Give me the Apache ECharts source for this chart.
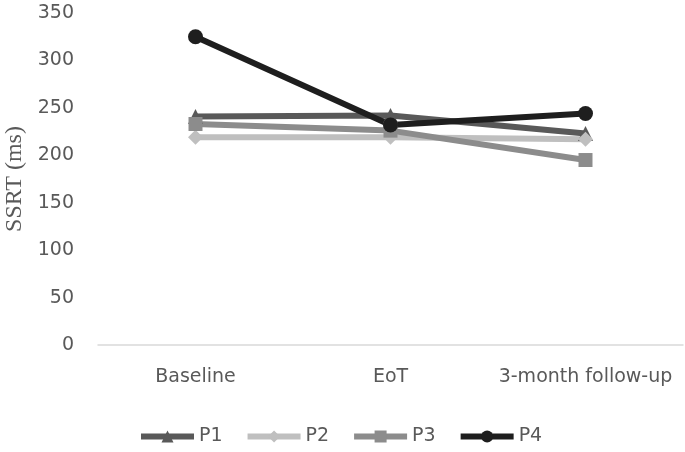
<!DOCTYPE html>
<html>
<head>
<meta charset="utf-8">
<script src="https://cdn.jsdelivr.net/npm/echarts@6/dist/echarts.min.js"></script>
<style>
  html, body { margin: 0; padding: 0; background: #fff; }
  #myChart { width: 685px; height: 452px; }
</style>
</head>
<body>
<div id="myChart"></div>
<script>
// data
const categories = ['Baseline', 'EoT', '3-month follow-up']
const yTicks = [0, 50, 100, 150, 200, 250, 300, 350]
const p1 = [241, 242, 223]
const p2 = [219, 219, 217]
const p3 = [233, 226, 195]
const p4 = [325, 232, 244]

let myChart = echarts.init(document.getElementById('myChart'))

const sansFont = 'DejaVu Sans'

function mkSeries(name, data, color, symbol, size, width) {
  return {
    name: name,
    type: 'line',
    data: data,
    symbol: symbol,
    symbolSize: size,
    showSymbol: true,
    lineStyle: { color: color, width: width },
    itemStyle: { color: color },
    emphasis: { disabled: true }
  }
}

myChart.setOption({
  animation: false,
  grid: { left: 98, right: 2, top: 13, bottom: 107, outerBoundsMode: 'none' },
  legend: {
    top: 422,
    left: 133,
    itemWidth: 53,
    itemHeight: 15,
    itemGap: 22,
    lineStyle: { width: 6 },
    textStyle: { fontFamily: sansFont, fontSize: 19, color: '#595959' },
    data: ['P1', 'P2', 'P3', 'P4']
  },
  xAxis: {
    type: 'category',
    data: categories,
    boundaryGap: true,
    axisLine: { lineStyle: { color: '#d9d9d9', width: 1.5 } },
    axisTick: { show: false },
    axisLabel: { interval: 0, hideOverlap: false, fontFamily: sansFont, fontSize: 19, color: '#595959', margin: 23 }
  },
  yAxis: {
    type: 'value',
    min: yTicks[0],
    max: yTicks[yTicks.length - 1],
    interval: 50,
    name: 'SSRT (ms)',
    nameLocation: 'middle',
    nameGap: 70,
    nameTextStyle: { fontFamily: 'Liberation Serif', fontSize: 24, color: '#595959' },
    axisLine: { show: false },
    axisTick: { show: false },
    splitLine: { show: false },
    axisLabel: { fontFamily: sansFont, fontSize: 19, color: '#595959', margin: 24 }
  },
  series: [
    mkSeries('P1', p1, '#595959', 'triangle', 15, 6),
    mkSeries('P2', p2, '#bfbfbf', 'diamond', 15, 6),
    mkSeries('P3', p3, '#8c8c8c', 'rect', 14, 6),
    mkSeries('P4', p4, '#1e1e1e', 'circle', 15, 6)
  ]
})
</script>
</body>
</html>
